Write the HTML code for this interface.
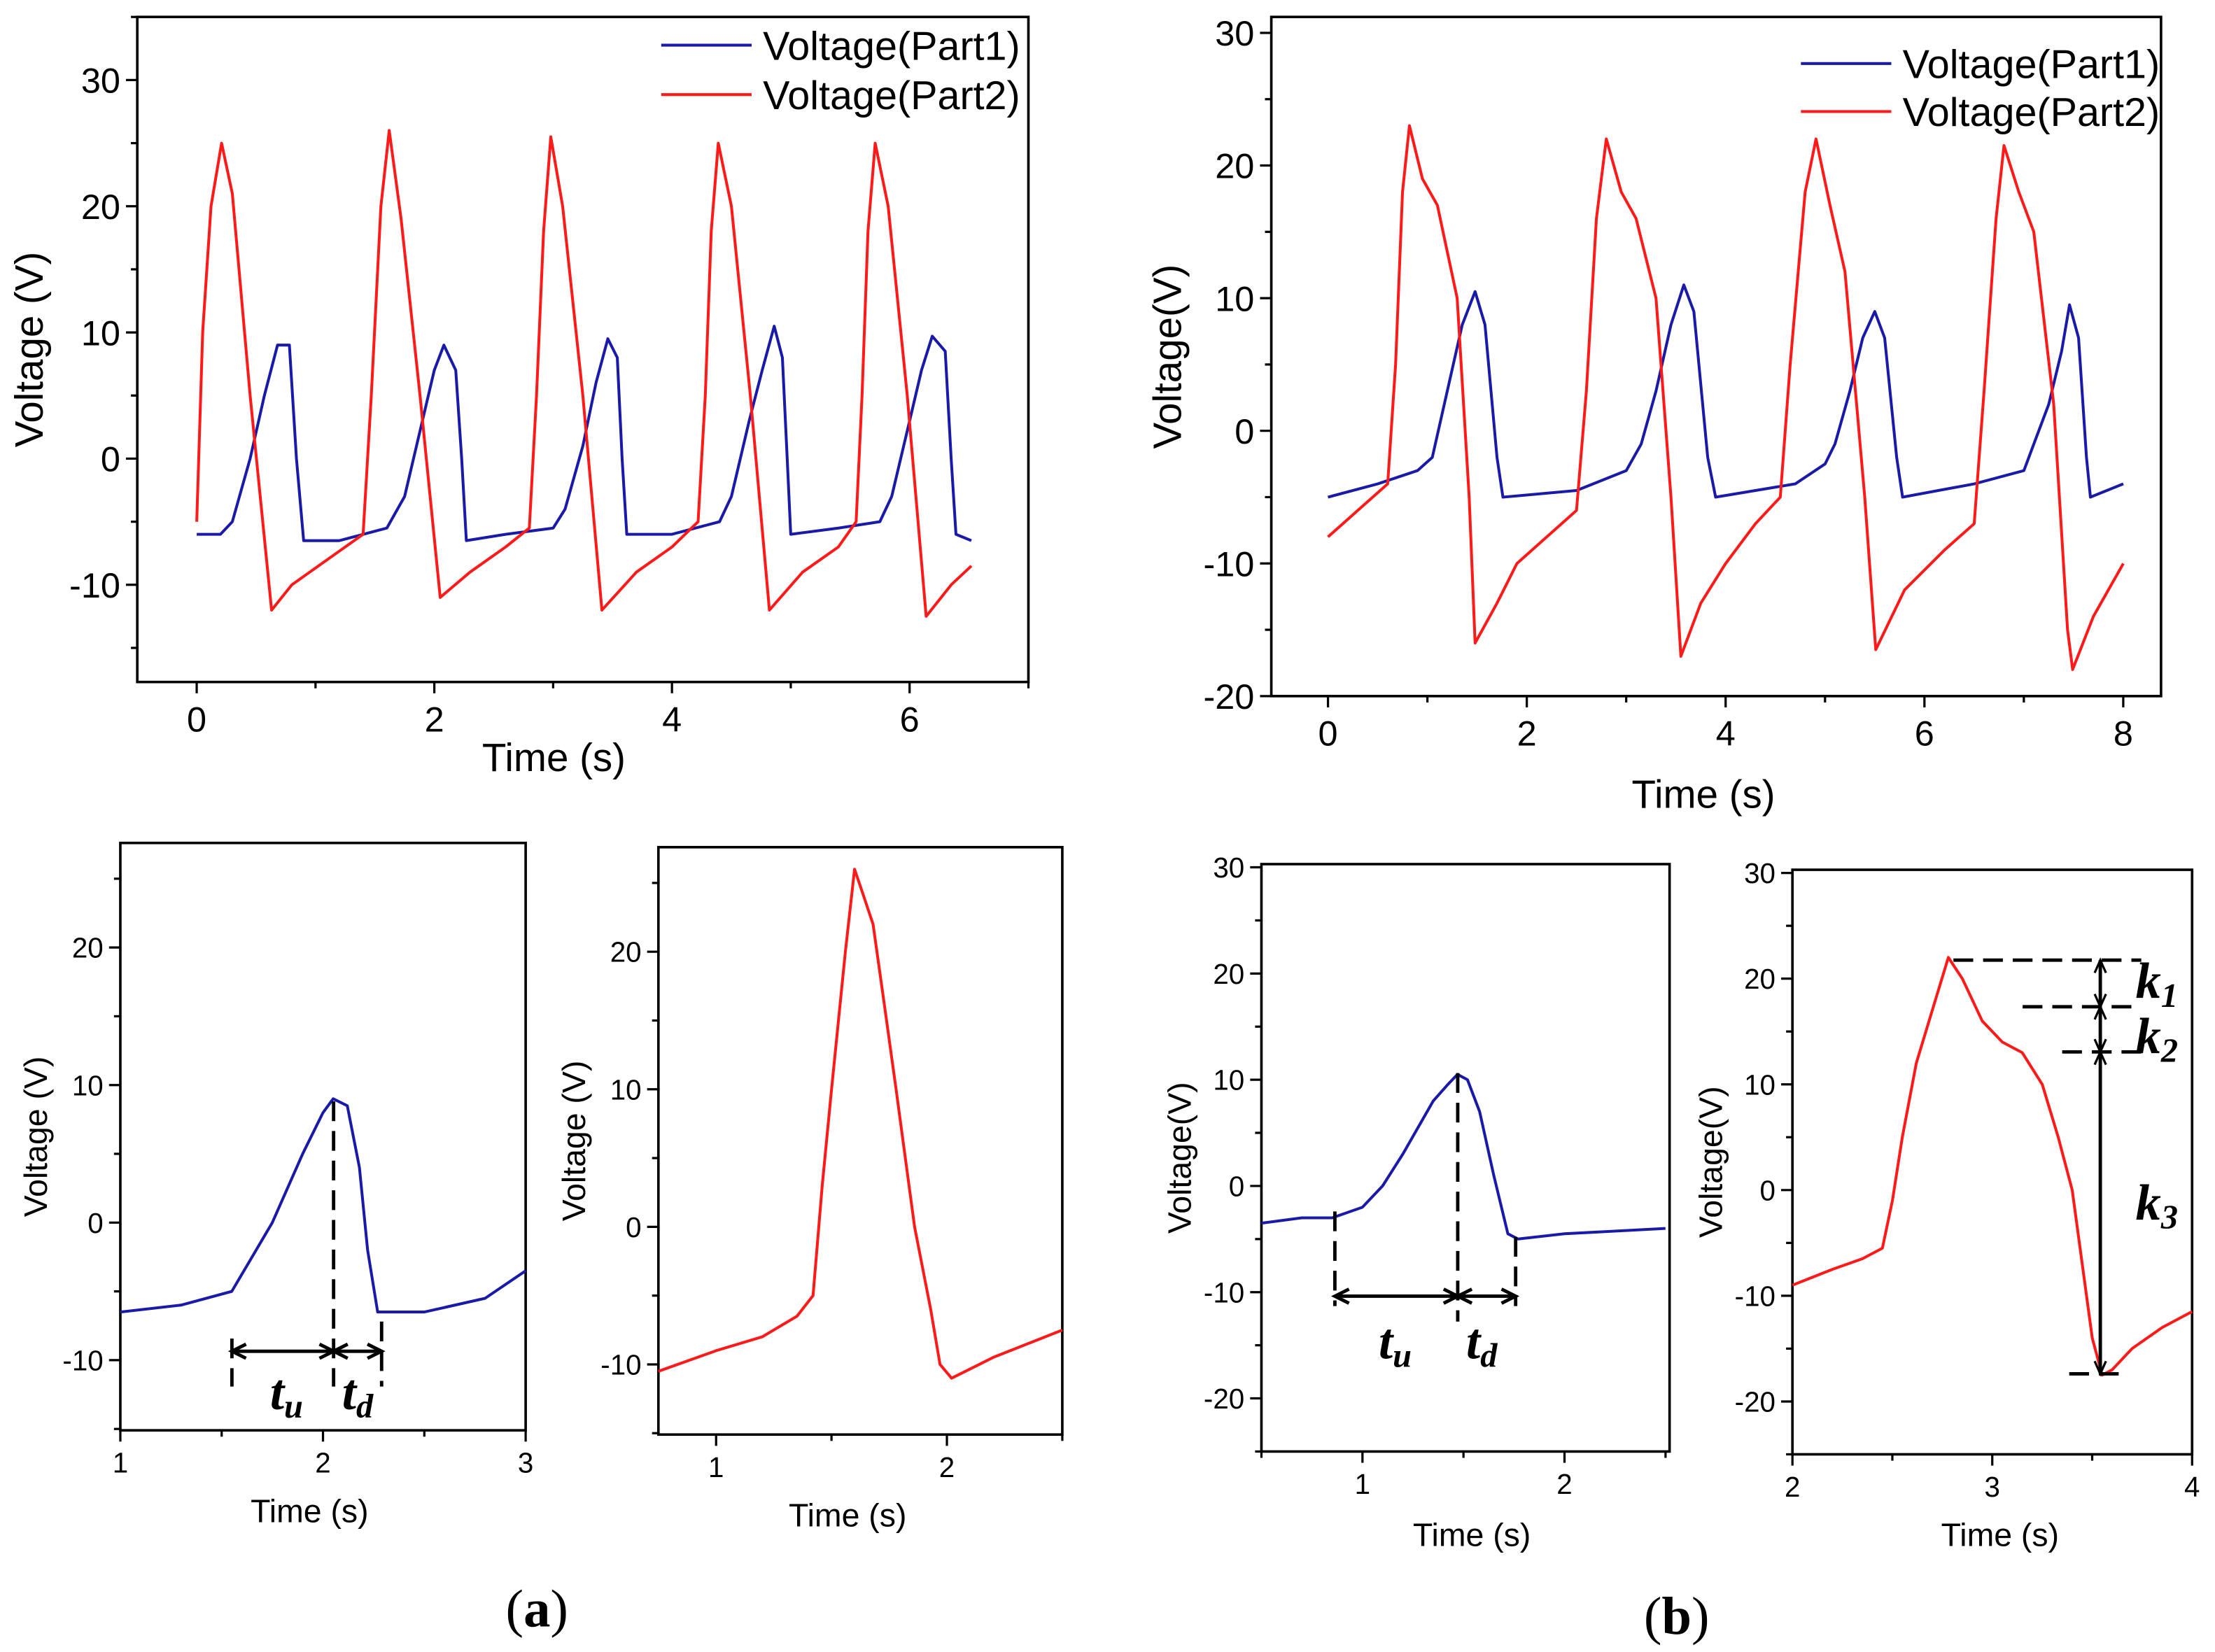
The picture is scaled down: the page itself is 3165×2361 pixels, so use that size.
<!DOCTYPE html>
<html><head><meta charset="utf-8"><style>
html,body{margin:0;padding:0;background:#fff;}
svg{display:block;font-family:"Liberation Sans",Arial,sans-serif;}
</style></head><body>
<svg id="fig" width="3165" height="2361" viewBox="0 0 1568 1170" xmlns="http://www.w3.org/2000/svg"></svg>
<script>
// ---- data (time s, voltage V) ----
const topA_part1_t=[0,0.2,0.3,0.45,0.57,0.68,0.78,0.84,0.9,1.2,1.6,1.75,1.9,2.0,2.08,2.18,2.23,2.27,2.6,3.0,3.1,3.25,3.36,3.46,3.54,3.58,3.62,4.0,4.4,4.5,4.65,4.76,4.86,4.93,4.97,5.0,5.4,5.75,5.85,6.0,6.1,6.19,6.3,6.35,6.39,6.52];
const topA_part1_v=[-6,-6,-5,0,5,9,9,0,-6.5,-6.5,-5.5,-3,3,7,9,7,0,-6.5,-6,-5.5,-4,1,6,9.5,8,0,-6,-6,-5,-3,3,7,10.5,8,0,-6,-5.5,-5,-3,3,7,9.7,8.5,0,-6,-6.5];
const topA_part2_t=[0,0.05,0.12,0.21,0.3,0.45,0.63,0.8,1.1,1.4,1.47,1.55,1.62,1.72,1.88,2.05,2.3,2.6,2.8,2.86,2.92,2.98,3.08,3.25,3.41,3.7,4.0,4.22,4.28,4.33,4.39,4.5,4.66,4.82,5.1,5.4,5.55,5.6,5.65,5.71,5.82,5.98,6.14,6.35,6.52];
const topA_part2_v=[-5,10,20,25,21,5,-12,-10,-8,-6,5,20,26,19,5,-11,-9,-7,-5.5,5,18,25.5,20,5,-12,-9,-7,-5,5,18,25,20,5,-12,-9,-7,-5,5,18,25,20,5,-12.5,-10,-8.5];
const topB_part1_t=[0,0.5,0.9,1.05,1.2,1.35,1.48,1.58,1.7,1.76,2.5,3.0,3.15,3.3,3.45,3.58,3.68,3.82,3.9,4.7,5.0,5.1,5.25,5.38,5.5,5.6,5.72,5.78,6.5,7.0,7.1,7.25,7.38,7.46,7.55,7.63,7.67,8.0];
const topB_part1_v=[-5,-4,-3,-2,3,8,10.5,8,-2,-5,-4.5,-3,-1,3,8,11,9,-2,-5,-4,-2.5,-1,3,7,9,7,-2,-5,-4,-3,-1,2,6,9.5,7,-2,-5,-4];
const topB_part2_t=[0,0.3,0.6,0.68,0.75,0.82,0.95,1.1,1.3,1.42,1.48,1.7,1.9,2.2,2.5,2.6,2.7,2.8,2.95,3.1,3.3,3.45,3.55,3.75,4.0,4.3,4.55,4.65,4.8,4.91,5.05,5.2,5.4,5.51,5.8,6.2,6.5,6.6,6.72,6.8,6.95,7.1,7.3,7.44,7.49,7.7,8.0];
const topB_part2_v=[-8,-6,-4,5,18,23,19,17,10,-5,-16,-13,-10,-8,-6,3,16,22,18,16,10,-5,-17,-13,-10,-7,-5,5,18,22,17,12,-5,-16.5,-12,-9,-7,3,16,21.5,18,15,2,-15,-18,-14,-10];
const botA1_t=[1.0,1.3,1.55,1.65,1.75,1.9,2.0,2.05,2.12,2.18,2.22,2.27,2.5,2.8,3.0];
const botA1_v=[-6.5,-6,-5,-2.5,0,5,8,9,8.5,4,-2,-6.5,-6.5,-5.5,-3.5];
const botA2_t=[0.75,1.0,1.2,1.35,1.42,1.46,1.5,1.56,1.6,1.64,1.68,1.73,1.78,1.86,1.93,1.97,2.02,2.2,2.5];
const botA2_v=[-10.5,-9,-8,-6.5,-5,3,10,20,26,24,22,16,10,0,-6,-10,-11,-9.5,-7.5];
const botB1_t=[0.5,0.7,0.85,1.0,1.1,1.2,1.35,1.42,1.47,1.52,1.58,1.65,1.72,1.77,2.0,2.5];
const botB1_v=[-3.5,-3,-3,-2,0,3,8,9.5,10.5,10,7,1,-4.5,-5,-4.5,-4];
const botB2_t=[2.0,2.2,2.35,2.45,2.5,2.55,2.62,2.7,2.78,2.85,2.95,3.05,3.15,3.25,3.33,3.4,3.45,3.5,3.55,3.6,3.7,3.85,4.0];
const botB2_v=[-9,-7.5,-6.5,-5.5,-1,5,12,17,22,20,16,14,13,10,5,0,-7,-14,-17.5,-17,-15,-13,-11.5];
const topA_xticks=[0,2,4,6], topA_yticks=[-10,0,10,20,30];
const topB_xticks=[0,2,4,6,8], topB_yticks=[-20,-10,0,10,20,30];
const botA1_xticks=[1,2,3], botA1_yticks=[-10,0,10,20];
const botA2_xticks=[1,2], botA2_yticks=[-10,0,10,20];
const botB1_xticks=[1,2], botB1_yticks=[-20,-10,0,10,20,30];
const botB2_xticks=[2,3,4], botB2_yticks=[-20,-10,0,10,20,30];

const NS="http://www.w3.org/2000/svg", svg=document.getElementById('fig');
function mk(tag,attrs,parent,txt){const e=document.createElementNS(NS,tag);for(const k in attrs)e.setAttribute(k,attrs[k]);if(txt!==undefined)e.textContent=txt;(parent||svg).appendChild(e);return e;}

function panel(name,box,xr,yr,xt,yt,xminor,yminor,fs,ytitle,ytx,xty,xtx,tfs){
  const g=mk('g',{},svg);
  
  
  const sx=v=>box[0]+(v-xr[0])/(xr[1]-xr[0])*(box[2]-box[0]);
  const sy=v=>box[3]-(v-yr[0])/(yr[1]-yr[0])*(box[3]-box[1]);
  const fr=mk('rect',{x:box[0],y:box[1],width:box[2]-box[0],height:box[3]-box[1],fill:'none',stroke:'#000','stroke-width':1.8},g);
  
  
  const mx=(xt[1]-xt[0])/xminor;
  for(let v=Math.ceil(xr[0]/mx)*mx;v<=xr[1]+1e-9;v+=mx){const maj=xt.some(t=>Math.abs(t-v)<1e-6);mk('line',{x1:sx(v),x2:sx(v),y1:box[3],y2:box[3]+(maj?8:4.5),stroke:'#000','stroke-width':1.6},g);}
  const my=(yt[1]-yt[0])/yminor;
  for(let v=Math.ceil(yr[0]/my)*my;v<=yr[1]+1e-9;v+=my){const maj=yt.some(t=>Math.abs(t-v)<1e-6);mk('line',{x1:box[0],x2:box[0]-(maj?8:4.5),y1:sy(v),y2:sy(v),stroke:'#000','stroke-width':1.6},g);}
  const xl=mk('g',{},g);
  
  
  xt.forEach(v=>mk('text',{x:sx(v),y:box[3]+10+fs,'font-size':fs,'text-anchor':'middle'},xl,String(v)));
  const yl=mk('g',{},g);
  
  
  yt.forEach(v=>mk('text',{x:box[0]-12,y:sy(v)+fs*0.36,'font-size':fs,'text-anchor':'end'},yl,String(v)));
  const xtl=mk('text',{x:xtx,y:xty,'font-size':tfs,'text-anchor':'middle'},g,'Time (s)');
  
  
  const cy=(box[1]+box[3])/2;
  const ytl=mk('text',{x:ytx,y:cy,'font-size':tfs,'text-anchor':'middle',transform:`rotate(-90 ${ytx} ${cy})`},g,ytitle);
  
  
  return {g,sx,sy};
}
function series(p,ts,vs,color,name){
  const d=ts.map((t,i)=>p.sx(t).toFixed(1)+','+p.sy(vs[i]).toFixed(1)).join(' ');
  const l=mk('polyline',{points:d,fill:'none',stroke:color,'stroke-width':2,'stroke-linejoin':'round'},p.g);
  
  
}
const BLUE='#1a1aa8', RED='#ff1a1a';
function legend(p,x,y,fs,gap){
  [[BLUE,'Voltage(Part1)'],[RED,'Voltage(Part2)']].forEach((c,i)=>{
    const g=mk('g',{},p.g);
    
    
    mk('line',{x1:x,x2:x+64,y1:y+i*gap,y2:y+i*gap,stroke:c[0],'stroke-width':2},g);
    mk('text',{x:x+72,y:y+i*gap+fs*0.36,'font-size':fs},g,c[1]);
  });
}
// top a
const pA=panel('panel-a-main',[97,12,728,483],[-0.5,7.0],[-17.7,35],topA_xticks,topA_yticks,2,2,25,'Voltage (V)',30,546,392,28);
series(pA,topA_part1_t,topA_part1_v,BLUE,'series-part1');
series(pA,topA_part2_t,topA_part2_v,RED,'series-part2');
legend(pA,468,32,28.5,35);
// top b
const pB=panel('panel-b-main',[900,12,1530,493],[-0.57,8.38],[-20,31.2],topB_xticks,topB_yticks,2,2,25,'Voltage(V)',836,572,1206,28);
series(pB,topB_part1_t,topB_part1_v,BLUE,'series-part1');
series(pB,topB_part2_t,topB_part2_v,RED,'series-part2');
legend(pB,1275,45,28.5,34);
// bottom
const a1=panel('panel-a-zoom-part1',[85,597,372,1013],[1,3],[-15.1,27.6],botA1_xticks,botA1_yticks,2,2,20,'Voltage (V)',33,1078,219,23);
series(a1,botA1_t,botA1_v,BLUE,'series-part1');
const a2=panel('panel-a-zoom-part2',[466,600,752,1016],[0.75,2.5],[-15.1,27.6],botA2_xticks,botA2_yticks,2,2,20,'Voltage (V)',414,1081,600,23);
series(a2,botA2_t,botA2_v,RED,'series-part2');
const b1=panel('panel-b-zoom-part1',[893,612,1182,1028],[0.5,2.52],[-25,30.3],botB1_xticks,botB1_yticks,2,2,20,'Voltage(V)',843,1095,1042,23);
series(b1,botB1_t,botB1_v,BLUE,'series-part1');
const b2=panel('panel-b-zoom-part2',[1269,616,1552,1030],[2,4],[-25,30.3],botB2_xticks,botB2_yticks,2,2,20,'Voltage(V)',1219,1095,1416,23);
series(b2,botB2_t,botB2_v,RED,'series-part2');

// annotations
const ann=mk('g',{stroke:'#000','stroke-width':2.4,fill:'none'});


const D='14,7';
function L(x1,y1,x2,y2,dash){mk('line',{x1,y1,x2,y2,'stroke-dasharray':dash?D:'none'},ann);}
function arrowH(x1,x2,y){L(x1,y,x2,y);mk('path',{d:`M${x1+10},${y-5}L${x1},${y}L${x1+10},${y+5}M${x2-10},${y-5}L${x2},${y}L${x2-10},${y+5}`},ann);}
function arrowV(x,y1,y2){L(x,y1,x,y2);mk('path',{d:`M${x-4},${y1+9}L${x},${y1}L${x+4},${y1+9}M${x-4},${y2-9}L${x},${y2}L${x+4},${y2-9}`,'stroke-width':1.6},ann);}
// a1
L(164,948,164,982,true);L(236,780,236,982,true);L(270,936,270,982,true);
arrowH(164,236,957);arrowH(236,270,957);
// b1
L(945,858,945,925,true);L(1032,760,1032,936,true);L(1073,876,1073,925,true);
arrowH(945,1032,918);arrowH(1032,1073,918);
// b2
L(1383,680,1516,680,true);L(1432,713,1516,713,true);L(1460,745,1516,745,true);L(1465,973,1506,973,true);
arrowV(1487,680,713);arrowV(1487,713,745);arrowV(1487,745,973);
const lab=mk('g',{'font-family':'"Liberation Serif",serif','font-weight':'bold','font-style':'italic','font-size':36});


function T(x,y,s,sub){const t=mk('text',{x,y},lab,s);mk('tspan',{'font-size':24,dy:6},t,sub);}
T(191,998,'t','u');T(242,998,'t','d');T(976,962,'t','u');T(1038,962,'t','d');
T(1512,707,'k','1');T(1512,746,'k','2');T(1512,864,'k','3');
const pl=mk('text',{x:380,y:1152,'font-family':'"Liberation Serif",serif','font-size':38,'text-anchor':'middle'},svg,'(');
mk('tspan',{'font-weight':'bold'},pl,'a');mk('tspan',{},pl,')');

const pl2=mk('text',{x:1187,y:1157,'font-family':'"Liberation Serif",serif','font-size':38,'text-anchor':'middle'},svg,'(');
mk('tspan',{'font-weight':'bold'},pl2,'b');mk('tspan',{},pl2,')');

</script>
</body></html>
